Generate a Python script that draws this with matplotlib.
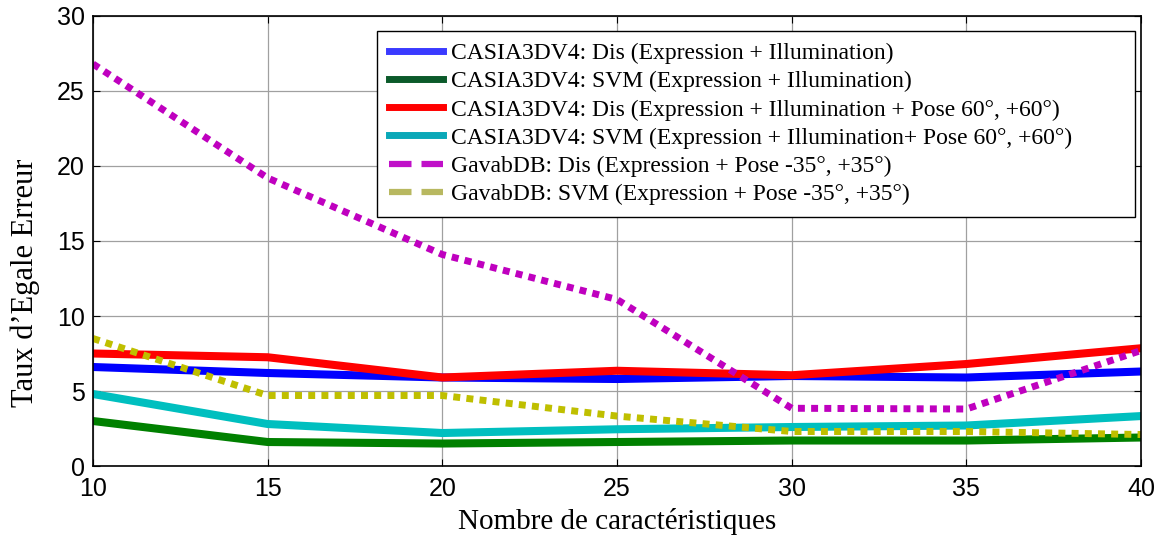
import matplotlib.pyplot as plt
from matplotlib.lines import Line2D

x = [10, 15, 20, 25, 30, 35, 40]
casia_dis_ei = [6.6, 6.2, 5.9, 5.8, 6.0, 5.9, 6.3]
casia_svm_ei = [3.0, 1.6, 1.5, 1.6, 1.7, 1.7, 1.9]
casia_dis_eip = [7.5, 7.25, 5.9, 6.35, 6.05, 6.8, 7.85]
casia_svm_eip = [4.8, 2.8, 2.2, 2.45, 2.6, 2.7, 3.33]
gavab_dis = [26.8, 19.2, 14.1, 11.1, 3.85, 3.8, 7.7]
gavab_svm = [8.5, 4.7, 4.7, 3.33, 2.3, 2.3, 2.1]

labels = [
    "CASIA3DV4: Dis (Expression + Illumination)",
    "CASIA3DV4: SVM (Expression + Illumination)",
    "CASIA3DV4: Dis (Expression + Illumination + Pose 60°, +60°)",
    "CASIA3DV4: SVM (Expression + Illumination+ Pose 60°, +60°)",
    "GavabDB: Dis (Expression + Pose -35°, +35°)",
    "GavabDB: SVM (Expression + Pose -35°, +35°)",
]

fig = plt.figure(figsize=(11.61, 5.38), dpi=100)
ax = fig.add_axes([0.0801, 0.1338, 0.9027, 0.8365])

lw = 5.8
ax.plot(x, casia_dis_ei, color='#0000ff', lw=lw)
ax.plot(x, casia_svm_ei, color='#008000', lw=lw)
ax.plot(x, casia_dis_eip, color='#ff0000', lw=lw)
ax.plot(x, casia_svm_eip, color='#00bfbf', lw=lw)
ax.plot(x, gavab_dis, color='#bf00bf', lw=5, ls=(0, (1, 0.9)))
ax.plot(x, gavab_svm, color='#bfbf00', lw=5, ls=(0, (1, 0.9)))

ax.set_xlim(10, 40)
ax.set_ylim(0, 30)
ax.set_xticks(range(10, 41, 5))
ax.set_yticks(range(0, 31, 5))
ax.grid(True, color='#a0a0a0', lw=0.9)
ax.set_axisbelow(True)
ax.tick_params(direction='in', top=True, right=True, length=5, labelsize=18)
ax.tick_params(axis='x', pad=8)
ax.tick_params(axis='y', pad=6)
for lab in ax.get_xticklabels() + ax.get_yticklabels():
    lab.set_family('Liberation Sans')
for s in ax.spines.values():
    s.set_linewidth(1.2)

ax.set_xlabel("Nombre de caractéristiques", family='Liberation Serif',
              fontsize=21)
ax.xaxis.set_label_coords(0.5, -0.093)
ax.set_ylabel("Taux d\u2019Egale Erreur", family='Liberation Serif',
              fontsize=22)
ax.yaxis.set_label_coords(-0.051, 0.407)

handles = [
    Line2D([], [], color='#3a3aff', lw=5),
    Line2D([], [], color='#0b5a2a', lw=5),
    Line2D([], [], color='#ff0000', lw=5),
    Line2D([], [], color='#0aa8b8', lw=5),
    Line2D([], [], color='#c010c8', lw=4.5, ls=(0, (3.6, 1.6))),
    Line2D([], [], color='#b8b860', lw=4.5, ls=(0, (3.6, 1.6))),
]
leg = ax.legend(handles, labels, loc='upper left', mode='expand',
                bbox_to_anchor=(0.271, 0.571, 0.7233, 0.3957),
                prop={'family': 'Liberation Serif', 'size': 17},
                frameon=True, fancybox=False, edgecolor='black',
                framealpha=1, handlelength=2.3, handletextpad=0.35,
                labelspacing=0.28, borderpad=0.5, borderaxespad=0)
leg.get_frame().set_linewidth(1.0)

fig.savefig('out.png', dpi=100)
